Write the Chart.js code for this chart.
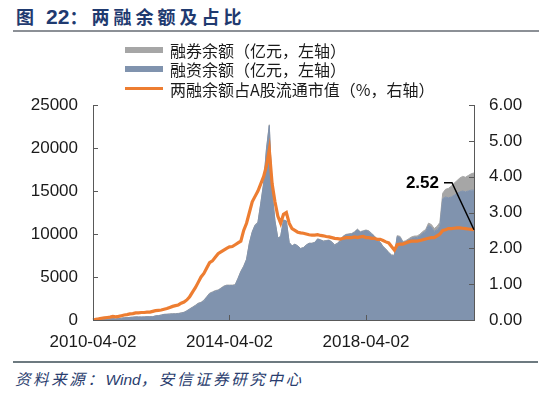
<!DOCTYPE html>
<html>
<head>
<meta charset="utf-8">
<script src="https://cdn.jsdelivr.net/npm/chart.js@4/dist/chart.umd.min.js"></script>
<style>
  body { margin: 0; background: #fff; }
  #wrap { position: relative; width: 550px; height: 394px; overflow: hidden; font-family: "Noto Sans CJK SC", sans-serif; }
  #title { position: absolute; left: 16px; top: 3px; font-size: 18px; font-weight: bold; color: #1f3a70; letter-spacing: 4px; white-space: nowrap; }
  #title .num { font-family: "Liberation Sans", Arial, sans-serif; font-size: 21px; letter-spacing: 0; }
  #topline { position: absolute; left: 13px; top: 30px; width: 526px; height: 2px; background: #8c9096; }
  #botline { position: absolute; left: 13px; top: 361px; width: 525px; height: 2px; background: #6d7a80; }
  #source { position: absolute; left: 15px; top: 367px; font-size: 15.5px; font-style: italic; color: #2a3d6e; letter-spacing: 2.6px; white-space: nowrap; }
  #source .en { font-family: "Liberation Sans", Arial, sans-serif; letter-spacing: 0; }
  #box { position: absolute; left: 0; top: 40px; width: 550px; height: 320px; }
  #legend { position: absolute; left: 125px; top: 40px; font-size: 16px; color: #1a1a1a; }
  #legend .row { height: 19.5px; display: flex; align-items: center; white-space: nowrap; }
  #legend .sw { width: 38px; margin-right: 7px; }
</style>
</head>
<body>
<div id="wrap">
  <div id="title">图 <span class="num">22</span>：两融余额及占比</div>
  <div id="topline"></div>
  <div id="box"><canvas id="chart"></canvas></div>
  <div id="legend"></div>
  <div id="botline"></div>
  <div id="source">资料来源：<span class="en">Wind</span>，安信证券研究中心</div>
</div>
<script>
// monthly points, 2010-04 .. 2021-06
const months = [];
for (let y = 2010; y <= 2021; y++) {
    for (let m = 1; m <= 12; m++) {
        if (y === 2010 && m < 4) continue;
        if (y === 2021 && m > 6) continue;
        months.push(y + '-' + String(m).padStart(2, '0') + '-02');
    }
}
const shownTicks = ['2010-04-02', '2014-04-02', '2018-04-02'];

// 融资余额（亿元）
const financing = [
    5, 30, 55, 80, 105, 115, 130, 160, 125,
    165, 215, 255, 275, 300, 325, 360, 350, 345, 355, 375, 370,
    380, 470, 500, 560, 640, 650, 680, 700, 700, 730, 790, 860,
    1040, 1250, 1450, 1650, 1900, 2000, 2250, 2650, 3050, 3200, 3350, 3430,
    3650, 3880, 4000, 4000, 4000, 4050, 4800, 5600, 6200, 7000, 8900, 10200,
    11000, 11300, 13500, 15800, 19800, 22600, 14800, 11500, 9500, 9700, 11600, 11500,
    9000, 8600, 8800, 8600, 8300, 8400, 8700, 8900, 8900, 9000, 9400, 9300,
    9150, 9200, 9250, 9050, 8700, 8900, 9200, 9700, 9900, 9950, 10000, 10200,
    10500, 10200, 10300, 10400, 10300, 10000, 9700, 9300, 9000, 8500, 8200, 7800,
    7500, 7450, 9700, 9600, 9000, 9100, 9300, 9500, 9600, 9600, 9800, 10100,
    10300, 11000, 10800, 10300, 10500, 10900, 14100, 14300, 14200, 14300, 14500, 14700,
    14900, 15000, 14900, 15000, 15100, 15100
];

// 融券余额（亿元）
const shortSelling = [
    0, 1, 1, 1, 1, 1, 1, 1, 1,
    2, 2, 3, 3, 4, 4, 5, 5, 6, 7, 7, 8,
    10, 12, 14, 20, 25, 30, 30, 35, 40, 40, 45, 40,
    40, 45, 55, 60, 60, 60, 60, 60, 65, 65, 70, 65,
    60, 60, 60, 60, 60, 60, 65, 70, 75, 80, 80, 70,
    70, 80, 90, 100, 110, 100, 50, 40, 30, 35, 40, 35,
    30, 25, 25, 25, 25, 30, 35, 35, 35, 35, 40, 40,
    40, 45, 50, 50, 55, 55, 60, 60, 60, 65, 65, 70,
    70, 70, 70, 70, 70, 70, 70, 70, 70, 70, 70, 70,
    80, 90, 110, 120, 120, 120, 140, 150, 160, 170, 180, 190,
    220, 260, 300, 330, 380, 450, 650, 900, 1100, 1250, 1400, 1500,
    1600, 1700, 1700, 1800, 1900, 2000
];

// 两融余额占A股流通市值（%）
const ratio = [
    0.00, 0.02, 0.03, 0.05, 0.06, 0.07, 0.08, 0.10, 0.09,
    0.10, 0.12, 0.14, 0.15, 0.17, 0.18, 0.20, 0.20, 0.21, 0.21, 0.22, 0.22,
    0.24, 0.26, 0.27, 0.28, 0.30, 0.32, 0.35, 0.38, 0.40, 0.42, 0.47, 0.50,
    0.56, 0.65, 0.78, 0.90, 1.05, 1.20, 1.30, 1.45, 1.60, 1.65, 1.75, 1.85,
    1.90, 1.95, 2.00, 2.04, 2.05, 2.10, 2.15, 2.20, 2.50, 2.70, 3.00, 3.30,
    3.45, 3.60, 3.80, 4.00, 4.30, 4.75, 3.80, 3.30, 2.90, 2.70, 2.95, 3.00,
    2.70, 2.55, 2.50, 2.45, 2.43, 2.42, 2.40, 2.38, 2.37, 2.37, 2.38, 2.36,
    2.35, 2.33, 2.32, 2.30, 2.28, 2.27, 2.26, 2.28, 2.30, 2.30, 2.30, 2.32,
    2.30, 2.32, 2.33, 2.30, 2.30, 2.28, 2.28, 2.25, 2.25, 2.22, 2.18, 2.15,
    2.05, 1.95, 2.10, 2.12, 2.12, 2.15, 2.18, 2.20, 2.20, 2.20, 2.22, 2.24,
    2.26, 2.28, 2.30, 2.30, 2.35, 2.40, 2.50, 2.52, 2.55, 2.55, 2.56, 2.57,
    2.57, 2.56, 2.55, 2.54, 2.53, 2.52
];

const names = ['两融余额占A股流通市值（%，右轴）', '融资余额（亿元，左轴）', '融券余额（亿元，左轴）'];
const colors = ['#ed7d31', '#8093ae', '#a6a6a6'];

const tickFont = { family: '"Liberation Sans", Arial, sans-serif', size: 17 };

// small inward tick marks + the 2.52 call-out
const extras = {
    id: 'extras',
    afterDatasetsDraw(chart) {
        const ctx = chart.ctx;
        const area = chart.chartArea;
        const sx = chart.scales.x, sy = chart.scales.y, sy1 = chart.scales.y1;
        ctx.save();
        ctx.strokeStyle = '#595959';
        ctx.lineWidth = 1;
        ctx.beginPath();
        sy.ticks.forEach((t, i) => {
            const y = Math.round(sy.getPixelForTick(i)) + 0.5;
            ctx.moveTo(area.left, y); ctx.lineTo(area.left + 5, y);
        });
        sy1.ticks.forEach((t, i) => {
            const y = Math.round(sy1.getPixelForTick(i)) + 0.5;
            ctx.moveTo(area.right - 5, y); ctx.lineTo(area.right, y);
        });
        months.forEach((m, i) => {
            if (shownTicks.indexOf(m) < 0) return;
            const x = Math.round(sx.getPixelForValue(i)) + 0.5;
            ctx.moveTo(x, area.bottom); ctx.lineTo(x, area.bottom - 5);
        });
        ctx.stroke();

        const pts = chart.getDatasetMeta(0).data;
        const last = pts[pts.length - 1];
        ctx.strokeStyle = '#000';
        ctx.lineWidth = 1.5;
        ctx.beginPath();
        ctx.moveTo(last.x, last.y);
        ctx.lineTo(last.x - 22, last.y - 47);
        ctx.lineTo(last.x - 30, last.y - 47);
        ctx.stroke();
        ctx.fillStyle = '#000';
        ctx.font = 'bold 17px "Liberation Sans", Arial, sans-serif';
        ctx.textAlign = 'right';
        ctx.textBaseline = 'middle';
        ctx.fillText(ratio[ratio.length - 1].toFixed(2), last.x - 35, last.y - 46);
        ctx.restore();
    }
};

const chart = new Chart(document.getElementById('chart').getContext('2d'), {
    type: 'line',
    data: {
        labels: months,
        datasets: [{
            label: names[0],
            data: ratio,
            yAxisID: 'y1',
            borderColor: colors[0],
            backgroundColor: colors[0],
            borderWidth: 3.2,
            pointRadius: 0,
            fill: false
        }, {
            label: names[1],
            data: financing,
            yAxisID: 'y',
            borderColor: colors[1],
            backgroundColor: colors[1],
            borderWidth: 1,
            pointRadius: 0,
            fill: 'origin'
        }, {
            label: names[2],
            data: shortSelling,
            yAxisID: 'y',
            borderColor: colors[2],
            backgroundColor: colors[2],
            borderWidth: 1,
            pointRadius: 0,
            fill: '-1'
        }]
    },
    options: {
        responsive: true,
        maintainAspectRatio: false,
        animation: false,
        layout: { padding: { top: 65, left: 0, right: 0, bottom: 0 } },
        plugins: {
            legend: { display: false },
            tooltip: { enabled: false }
        },
        scales: {
            x: {
                offset: false,
                grid: { display: false, drawTicks: false },
                border: { display: true, color: '#595959' },
                ticks: {
                    autoSkip: false,
                    maxRotation: 0,
                    padding: 12,
                    color: '#1a1a1a',
                    font: tickFont,
                    callback: function(value) {
                        const l = months[value];
                        return shownTicks.indexOf(l) >= 0 ? l : '';
                    }
                },
                afterFit: s => { s.height = 40; }
            },
            y: {
                position: 'left',
                stacked: true,
                min: 0,
                max: 25000,
                grid: { display: false, drawTicks: false },
                border: { display: true, color: '#595959' },
                ticks: {
                    stepSize: 5000, padding: 15, color: '#1a1a1a', font: tickFont,
                    callback: v => String(v)
                },
                afterFit: s => { s.width = 93; }
            },
            y1: {
                position: 'right',
                min: 0,
                max: 6,
                grid: { display: false, drawTicks: false },
                border: { display: true, color: '#595959' },
                ticks: {
                    stepSize: 1, padding: 15, color: '#1a1a1a', font: tickFont,
                    callback: v => Number(v).toFixed(2)
                },
                afterFit: s => { s.width = 76; }
            }
        }
    },
    plugins: [extras]
});

// legend: 融券, 融资, 两融占比
const legend = document.getElementById('legend');
[2, 1, 0].forEach(i => {
    const row = document.createElement('div');
    row.className = 'row';
    const sw = document.createElement('span');
    sw.className = 'sw';
    sw.style.background = colors[i];
    sw.style.height = i === 0 ? '3px' : '6px';
    row.appendChild(sw);
    row.appendChild(document.createTextNode(names[i]));
    legend.appendChild(row);
});
</script>
</body>
</html>
